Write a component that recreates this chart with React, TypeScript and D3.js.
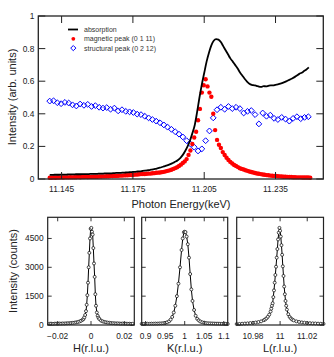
import * as d3 from 'd3';

// --- top panel: energy scan ---
const energyTicks = [11.145, 11.175, 11.205, 11.235];
const intensityTicks = [0, 0.2, 0.4, 0.6, 0.8, 1];

// absorption, 11.140 .. 11.250 keV, 1 eV step
const absStart = 11.14;
const absStep = 0.001;
const absorption = [
	0.025, 0.025, 0.026, 0.026, 0.026, 0.027, 0.027, 0.027, 0.028, 0.028,
	0.028, 0.029, 0.029, 0.029, 0.030, 0.030, 0.030, 0.031, 0.031, 0.032,
	0.032, 0.033, 0.033, 0.034, 0.034, 0.035, 0.035, 0.036, 0.037, 0.037,
	0.038, 0.039, 0.040, 0.041, 0.042, 0.043, 0.044, 0.046, 0.047, 0.049,
	0.051, 0.053, 0.055, 0.058, 0.061, 0.064, 0.068, 0.072, 0.077, 0.082,
	0.087, 0.093, 0.100, 0.107, 0.117, 0.130, 0.148, 0.172, 0.200, 0.235,
	0.280, 0.330, 0.410, 0.500, 0.580, 0.650, 0.720, 0.775, 0.820, 0.848,
	0.858, 0.855, 0.840, 0.815, 0.790, 0.765, 0.740, 0.720, 0.700, 0.680,
	0.655, 0.635, 0.615, 0.598, 0.585, 0.578, 0.575, 0.572, 0.567, 0.565,
	0.570, 0.568, 0.572, 0.575, 0.574, 0.578, 0.580, 0.585, 0.590, 0.596,
	0.603, 0.610, 0.617, 0.625, 0.635, 0.645, 0.652, 0.662, 0.672, 0.685,
];

// magnetic peak (0 1 11), 0.8 eV step
const magStart = 11.14;
const magStep = 0.0008;
const magnetic = [
	0.008, 0.008, 0.009, 0.008, 0.009, 0.009, 0.010, 0.009, 0.010, 0.010,
	0.010, 0.011, 0.010, 0.011, 0.011, 0.012, 0.011, 0.012, 0.012, 0.013,
	0.012, 0.013, 0.013, 0.014, 0.014, 0.014, 0.015, 0.015, 0.016, 0.016,
	0.017, 0.017, 0.018, 0.018, 0.019, 0.019, 0.020, 0.021, 0.021, 0.022,
	0.023, 0.023, 0.024, 0.025, 0.026, 0.027, 0.028, 0.029, 0.030, 0.031,
	0.031, 0.032, 0.033, 0.033, 0.035, 0.036, 0.038, 0.039, 0.040, 0.042,
	0.044, 0.047, 0.050, 0.053, 0.057, 0.062, 0.067, 0.072, 0.080, 0.088,
	0.098, 0.108, 0.122, 0.148, 0.175, 0.215, 0.255, 0.290, 0.360, 0.430,
	0.530, 0.575, 0.612, 0.568, 0.530, 0.505, 0.400, 0.300, 0.240, 0.210,
	0.190, 0.165, 0.147, 0.130, 0.117, 0.105, 0.095, 0.086, 0.080, 0.073,
	0.066, 0.062, 0.058, 0.054, 0.050, 0.046, 0.043, 0.040, 0.037, 0.034,
	0.032, 0.030, 0.028, 0.026, 0.024, 0.023, 0.021, 0.020, 0.019, 0.018,
	0.017, 0.016, 0.015, 0.014, 0.014, 0.013, 0.012, 0.012, 0.011, 0.011,
	0.010, 0.010, 0.010, 0.009, 0.009, 0.009, 0.009, 0.008,
];

// structural peak (0 2 12), 1.6 eV step
const strStart = 11.14;
const strStep = 0.0016;
const structural = [
	0.478, 0.480, 0.468, 0.462, 0.470, 0.466, 0.455, 0.448, 0.460, 0.452,
	0.458, 0.445, 0.450, 0.440, 0.435, 0.438, 0.428, 0.435, 0.418, 0.425,
	0.415, 0.412, 0.408, 0.398, 0.395, 0.385, 0.375, 0.365, 0.355, 0.345,
	0.332, 0.318, 0.305, 0.290, 0.275, 0.258, 0.235, 0.215, 0.195, 0.172,
	0.185, 0.235, 0.295, 0.375, 0.425, 0.440, 0.428, 0.445, 0.432, 0.440,
	0.432, 0.405, 0.415, 0.420, 0.395, 0.338, 0.405, 0.385, 0.392, 0.372,
	0.365, 0.378, 0.368, 0.355, 0.372, 0.382, 0.370, 0.378, 0.382,
];

const legendItems = ['absorption', 'magnetic peak (0 1 11)', 'structural peak (0 2 12)'];

// --- bottom panels: rocking scans ---
const countTicks = [0, 1500, 3000, 4500];

const hScan = [
	[-0.025, 60], [-0.024, 70], [-0.023, 55], [-0.022, 65], [-0.021, 70],
	[-0.02, 60], [-0.019, 75], [-0.018, 70], [-0.017, 80], [-0.016, 75],
	[-0.015, 85], [-0.014, 90], [-0.013, 95], [-0.012, 100], [-0.011, 110],
	[-0.01, 120], [-0.009, 135], [-0.008, 155], [-0.007, 180], [-0.006, 215],
	[-0.005, 270], [-0.0045, 320], [-0.004, 400], [-0.0035, 520], [-0.003, 720],
	[-0.0026, 1050], [-0.0022, 1550], [-0.0018, 2200], [-0.0014, 3000], [-0.001, 3750],
	[-0.0006, 4500], [-0.0002, 5000], [0.0002, 5050], [0.0006, 4850], [0.001, 4700],
	[0.0014, 4000], [0.0018, 3200], [0.0022, 2500], [0.0026, 1600], [0.003, 1000],
	[0.0035, 650], [0.004, 480], [0.0045, 380], [0.005, 310], [0.006, 230],
	[0.007, 190], [0.008, 160], [0.009, 140], [0.01, 125], [0.011, 115],
	[0.012, 100], [0.013, 95], [0.014, 90], [0.015, 80], [0.016, 85],
	[0.017, 75], [0.018, 70], [0.019, 75], [0.02, 65], [0.021, 70],
	[0.022, 60], [0.023, 65], [0.024, 55], [0.025, 60],
];

const kScan = [
	[0.89, 60], [0.895, 55], [0.9, 60], [0.905, 65], [0.91, 60],
	[0.915, 70], [0.92, 65], [0.925, 75], [0.93, 70], [0.935, 80],
	[0.94, 85], [0.945, 95], [0.95, 110], [0.955, 140], [0.96, 190],
	[0.964, 280], [0.968, 420], [0.972, 650], [0.976, 1000], [0.98, 1500],
	[0.984, 2150], [0.988, 3000], [0.992, 3900], [0.995, 4500], [0.998, 4820],
	[1.0, 4850], [1.002, 4830], [1.005, 4600], [1.008, 4200], [1.011, 3500],
	[1.014, 2650], [1.017, 1850], [1.02, 1250], [1.024, 780], [1.028, 480],
	[1.032, 320], [1.036, 240], [1.04, 180], [1.045, 140], [1.05, 120],
	[1.055, 100], [1.06, 90], [1.065, 85], [1.07, 80], [1.075, 75],
	[1.08, 70], [1.085, 70], [1.09, 65], [1.095, 60], [1.1, 65],
	[1.105, 60], [1.11, 55],
];

const lScan = [
	[10.968, 50], [10.97, 55], [10.972, 65], [10.974, 75], [10.976, 85],
	[10.978, 100], [10.98, 115], [10.982, 130], [10.984, 155], [10.986, 190],
	[10.988, 250], [10.989, 290], [10.99, 350], [10.991, 430], [10.992, 540],
	[10.993, 700], [10.9935, 850], [10.994, 1000], [10.9945, 1130], [10.995, 1450],
	[10.9955, 1800], [10.996, 2200], [10.9965, 2600], [10.997, 3030], [10.9975, 3500],
	[10.998, 3950], [10.9985, 4450], [10.999, 4800], [10.9995, 5050], [11.0, 4900],
	[11.0005, 4600], [11.001, 4150], [11.0015, 3650], [11.002, 3050], [11.0025, 2550],
	[11.003, 2000], [11.0035, 1600], [11.004, 1250], [11.0045, 1000], [11.005, 800],
	[11.006, 560], [11.007, 420], [11.008, 340], [11.009, 280], [11.01, 240],
	[11.012, 190], [11.014, 160], [11.016, 135], [11.018, 120], [11.02, 105],
	[11.022, 95], [11.024, 85], [11.026, 80], [11.028, 70], [11.03, 65],
	[11.032, 60],
];

const panels = [
	{ name: 'H(r.l.u.)', data: hScan, domain: [-0.026, 0.026], range: [47.7, 134.3], ticks: [-0.02, 0, 0.02] },
	{ name: 'K(r.l.u.)', data: kScan, domain: [0.89, 1.11], range: [141.7, 227.7], ticks: [0.9, 0.95, 1, 1.05, 1.1] },
	{ name: 'L(r.l.u.)', data: lScan, domain: [10.968, 11.032], range: [236.7, 323.5], ticks: [10.98, 11, 11.02] },
];

const FONT = "'Liberation Sans', Arial, sans-serif";
const INK = '#222';

function fmtTick(v) {
	// keep labels like the original ("1", "0.95", "-0.02")
	return String(+v.toFixed(4)).replace('-', '\u2212');
}

export default function App() {
	const x = d3.scaleLinear().domain([11.1352, 11.2551]).range([38.3, 323.3]);
	const y = d3.scaleLinear().domain([0, 1]).range([179, 16]);
	const [x0, x1] = x.range();
	const [yb, yt] = y.range();

	const absLine = d3
		.line()
		.x((d, i) => x(absStart + i * absStep))
		.y((d) => y(d))
		.curve(d3.curveMonotoneX)(absorption);

	const yc = d3.scaleLinear().domain([0, 5600]).range([325, 217.3]);
	const [cb, ct] = yc.range();

	const diamond = (cx, cy, r) =>
		`M${cx},${cy - r}L${cx + r},${cy}L${cx},${cy + r}L${cx - r},${cy}Z`;

	return (
		<svg
			width={334}
			height={357}
			style={{ position: 'fixed', left: 0, top: 0, background: '#fff' }}
			fontFamily={FONT}>
			{/* ---------- top panel ---------- */}
			<g>
				{/* structural peak */}
				{structural.map((v, i) => (
					<path
						key={'s' + i}
						d={diamond(x(strStart + i * strStep), y(v), 2.9)}
						fill='none'
						stroke='#0000ff'
						strokeWidth={1}
					/>
				))}
				{/* magnetic peak */}
				{magnetic.map((v, i) => (
					<circle
						key={'m' + i}
						cx={x(magStart + i * magStep)}
						cy={y(v)}
						r={2.2}
						fill='#ff0000'
					/>
				))}
				{/* absorption */}
				<path d={absLine} fill='none' stroke='#000' strokeWidth={1.8} />

				{/* frame & ticks */}
				<rect x={x0} y={yt} width={x1 - x0} height={yb - yt} fill='none' stroke={INK} strokeWidth={1.3} />
				{energyTicks.map((t) => (
					<g key={'et' + t}>
						<line x1={x(t)} x2={x(t)} y1={yb} y2={yb - 7} stroke={INK} strokeWidth={1} />
						<line x1={x(t)} x2={x(t)} y1={yt} y2={yt + 7} stroke={INK} strokeWidth={1} />
						<text x={x(t)} y={yb + 13} textAnchor='middle' fontSize={8.4} fill={INK}>
							{t.toFixed(3)}
						</text>
					</g>
				))}
				{intensityTicks.map((t) => (
					<g key={'it' + t}>
						<line x1={x0} x2={x0 + 7} y1={y(t)} y2={y(t)} stroke={INK} strokeWidth={1} />
						<line x1={x1} x2={x1 - 7} y1={y(t)} y2={y(t)} stroke={INK} strokeWidth={1} />
						<text x={x0 - 4} y={y(t) + 3} textAnchor='end' fontSize={8.4} fill={INK}>
							{String(t)}
						</text>
					</g>
				))}
				<text x={181} y={208} textAnchor='middle' fontSize={11} fill={INK}>
					Photon Energy(keV)
				</text>
				<text transform='translate(15.5,97) rotate(-90)' textAnchor='middle' fontSize={11} fill={INK}>
					Intensity (arb. units)
				</text>

				{/* legend */}
				{legendItems.map((label, i) => {
					const ly = 29.5 + i * 9.3;
					return (
						<g key={label}>
							{i === 0 && <line x1={68} x2={78} y1={ly} y2={ly} stroke='#000' strokeWidth={1.8} />}
							{i === 1 && <circle cx={73.3} cy={ly} r={1.9} fill='#ff0000' />}
							{i === 2 && <path d={diamond(73.3, ly, 2.6)} fill='none' stroke='#0000ff' strokeWidth={1} />}
							<text x={84} y={ly + 2.5} fontSize={7} fill='#333'>
								{label}
							</text>
						</g>
					);
				})}
			</g>

			{/* ---------- bottom panels ---------- */}
			{panels.map((p, pi) => {
				const sx = d3.scaleLinear().domain(p.domain).range(p.range);
				const [px0, px1] = p.range;
				const line = d3
					.line()
					.x((d) => sx(d[0]))
					.y((d) => yc(d[1]))(p.data);
				return (
					<g key={p.name}>
						<path d={line} fill='none' stroke='#000' strokeWidth={1} />
						{p.data.map((d, i) => (
							<circle key={i} cx={sx(d[0])} cy={yc(d[1])} r={1.5} fill='#fff' stroke='#000' strokeWidth={0.7} />
						))}
						<rect x={px0} y={ct} width={px1 - px0} height={cb - ct} fill='none' stroke={INK} strokeWidth={1.2} />
						{p.ticks.map((t) => (
							<g key={'pt' + t}>
								<line x1={sx(t)} x2={sx(t)} y1={cb} y2={cb - 4} stroke={INK} strokeWidth={0.9} />
								<line x1={sx(t)} x2={sx(t)} y1={ct} y2={ct + 4} stroke={INK} strokeWidth={0.9} />
								<text x={sx(t)} y={cb + 14} textAnchor='middle' fontSize={8.4} fill={INK}>
									{fmtTick(t)}
								</text>
							</g>
						))}
						{countTicks.map((t) => (
							<g key={'ct' + t}>
								<line x1={px0} x2={px0 + 4} y1={yc(t)} y2={yc(t)} stroke={INK} strokeWidth={0.9} />
								<line x1={px1} x2={px1 - 4} y1={yc(t)} y2={yc(t)} stroke={INK} strokeWidth={0.9} />
								{pi === 0 && (
									<text x={px0 - 4} y={yc(t) + 3} textAnchor='end' fontSize={8.4} fill={INK}>
										{String(t)}
									</text>
								)}
							</g>
						))}
						<text x={(px0 + px1) / 2} y={352} textAnchor='middle' fontSize={11} fill={INK}>
							{p.name}
						</text>
					</g>
				);
			})}
			<text transform='translate(16.5,271) rotate(-90)' textAnchor='middle' fontSize={11} fill={INK}>
				Intensity (counts)
			</text>
		</svg>
	);
}
